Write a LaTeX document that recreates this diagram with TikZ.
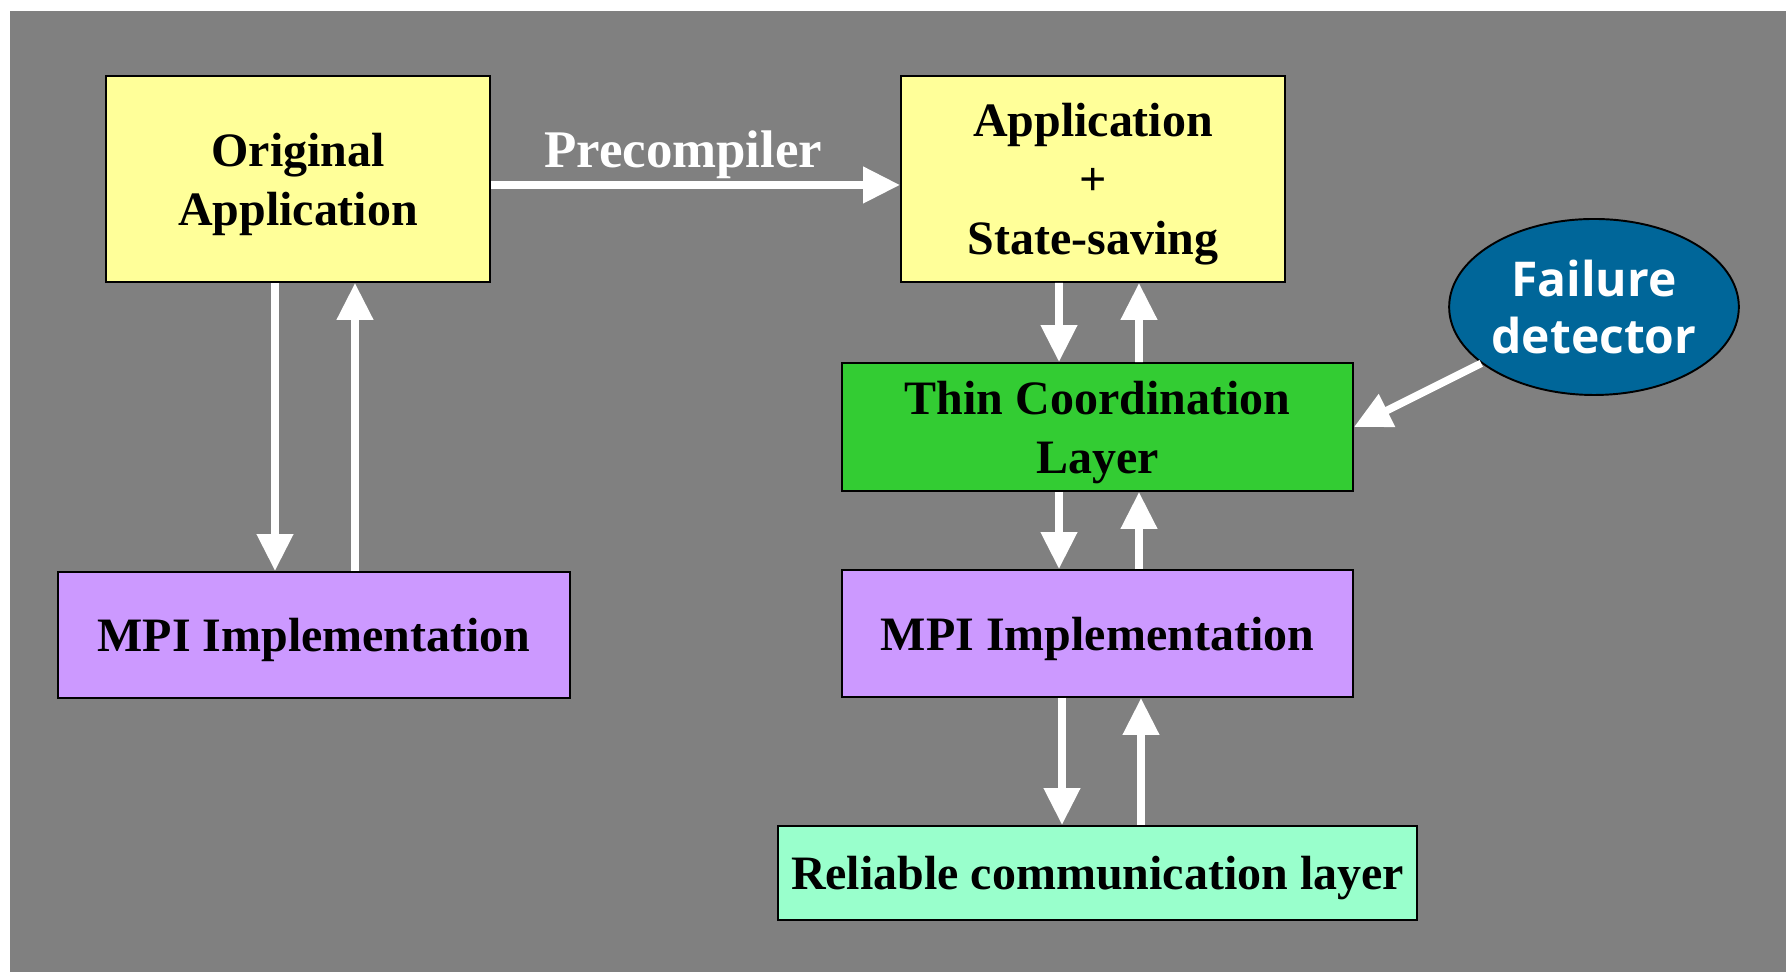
\documentclass[tikz,border=0pt]{standalone}
\usepackage{fontspec}
\setmainfont{Liberation Serif}
\newfontfamily\fdfont{Open Sans}
\usetikzlibrary{arrows.meta,shapes.geometric}

\definecolor{bggray}{HTML}{808080}
\definecolor{appyellow}{HTML}{FFFF99}
\definecolor{mpipurple}{HTML}{CC99FF}
\definecolor{tclgreen}{HTML}{33CC33}
\definecolor{rclmint}{HTML}{99FFCC}
\definecolor{fdblue}{HTML}{006699}

\begin{document}
\begin{tikzpicture}[box/.style={draw=black, line width=1.1pt, inner sep=0pt, align=center, text depth=0pt, font=\fontsize{27.3}{33.5}\selectfont\bfseries},
flow/.style={draw=white, line width=4.3pt, -{Triangle[length=0.74cm,width=0.7cm]}}]
\useasboundingbox (0,0) rectangle (35.72,19.44);
\fill[bggray] (0.2,0) rectangle (35.72,19.22);

\node[box, fill=appyellow, minimum width=7.68cm, minimum height=4.12cm, text depth=-0.12cm] (orig) at (5.96,15.86) {Original\\Application};
\node[box, fill=appyellow, minimum width=7.68cm, minimum height=4.12cm] (appstate) at (21.86,15.86) {Application\\+\\State-saving};
\node[box, fill=mpipurple, minimum width=10.24cm, minimum height=2.52cm] (mpileft) at (6.28,6.74) {MPI Implementation};
\node[box, fill=tclgreen, minimum width=10.22cm, minimum height=2.56cm, text depth=-0.1cm] (tcl) at (21.95,10.90) {Thin Coordination\\Layer};
\node[box, fill=mpipurple, minimum width=10.22cm, minimum height=2.54cm] (mpiright) at (21.95,6.77) {MPI Implementation};
\node[box, fill=rclmint, minimum width=12.78cm, minimum height=1.88cm, text depth=-0.05cm] (rcl) at (21.95,1.98) {Reliable communication layer};
\node[ellipse, draw=black, line width=1.1pt, fill=fdblue, minimum width=5.76cm, minimum height=3.52cm, inner sep=0pt, align=center, text=white, font=\fdfont\fontsize{27.3}{32.4}\selectfont\bfseries] (fdet) at (31.88,13.30) {Failure\\detector};

\draw[flow] ([yshift=-0.12cm]orig.east) -- ([yshift=-0.12cm]appstate.west)
  node[pos=0.47, anchor=base, yshift=0.35cm, text=white, font=\fontsize{30.1}{36}\selectfont\bfseries] {Precompiler};

\draw[flow] ([xshift=-0.46cm]orig.south) -- ([xshift=-0.78cm]mpileft.north);
\draw[flow] ([xshift=0.82cm]mpileft.north) -- ([xshift=1.14cm]orig.south);

\draw[flow] ([xshift=-0.68cm]appstate.south) -- ([xshift=-0.77cm]tcl.north);
\draw[flow] ([xshift=0.83cm]tcl.north) -- ([xshift=0.92cm]appstate.south);

\draw[flow] ([xshift=-0.77cm]tcl.south) -- ([xshift=-0.77cm]mpiright.north);
\draw[flow] ([xshift=0.83cm]mpiright.north) -- ([xshift=0.83cm]tcl.south);

\draw[flow] ([xshift=-0.71cm]mpiright.south) -- ([xshift=-0.71cm]rcl.north);
\draw[flow] ([xshift=0.87cm]rcl.north) -- ([xshift=0.87cm]mpiright.south);

\draw[flow] (fdet) -- (tcl.east);
\end{tikzpicture}
\end{document}
